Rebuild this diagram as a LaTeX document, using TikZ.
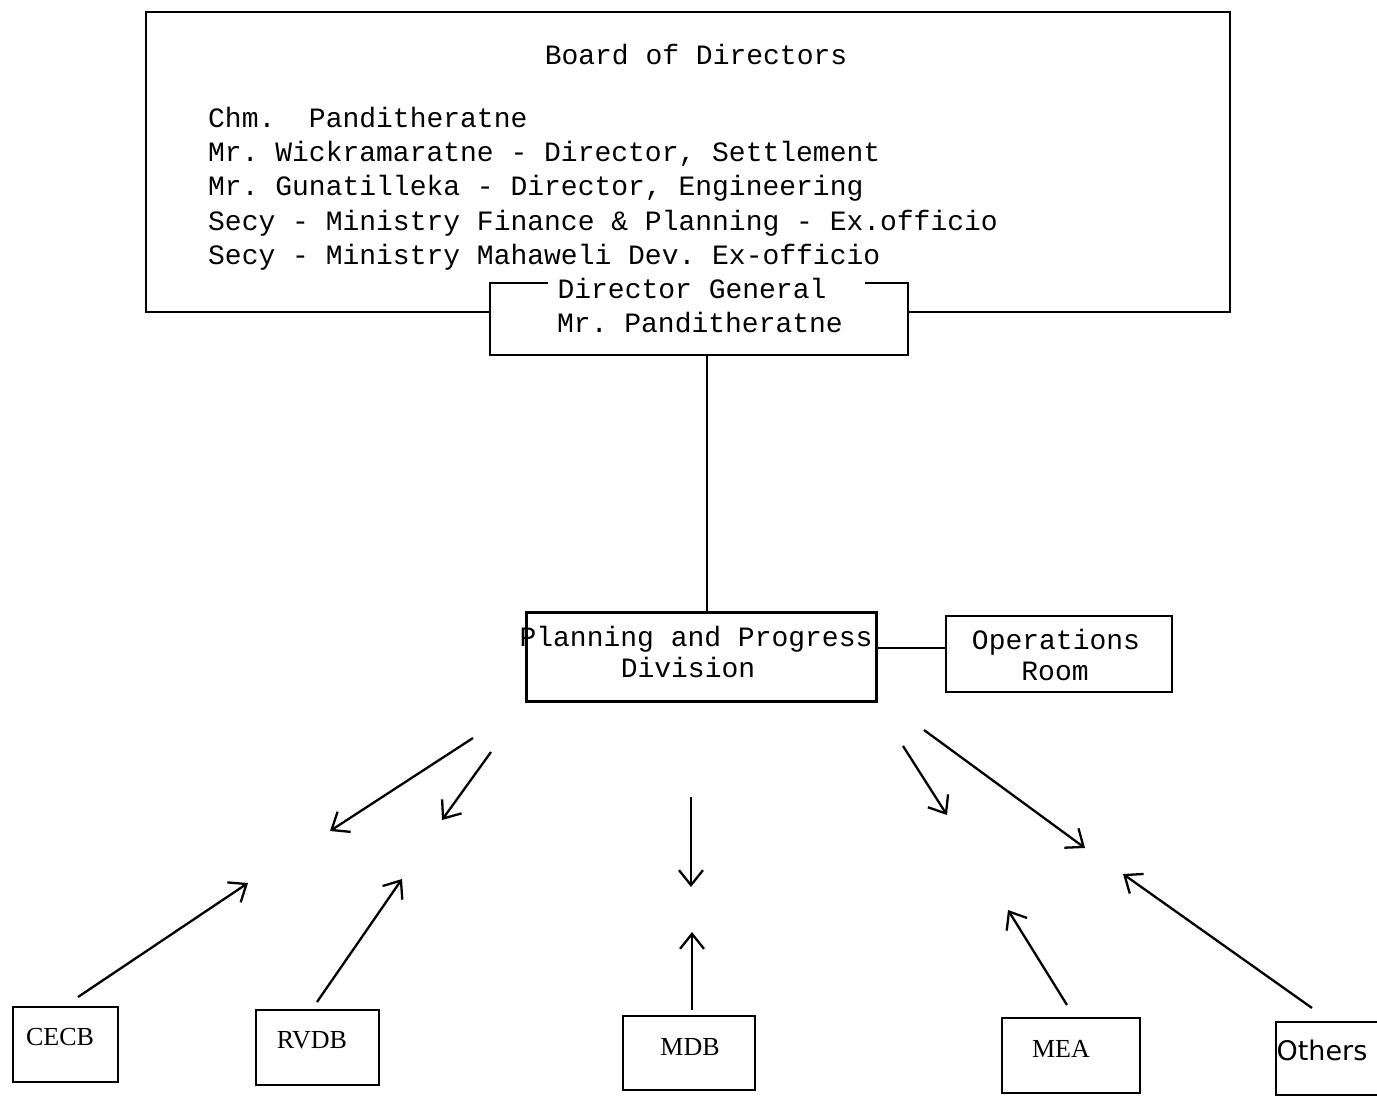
\documentclass[tikz,border=0pt]{standalone}
\usepackage{fontspec}
\setmonofont{Liberation Mono}
\newfontfamily\serifbox{Liberation Serif}
\newfontfamily\sansbox{DejaVu Sans}
\usetikzlibrary{arrows.meta,calc}
\begin{document}
\begin{tikzpicture}[x=1pt,y=-1pt,line width=2.3pt,
  tw/.style={font=\ttfamily\fontsize{28}{34}\selectfont, inner sep=0pt},
  boxlbl/.style={font=\serifbox\fontsize{26}{30}\selectfont, inner sep=0pt},
  othlbl/.style={font=\sansbox\fontsize{27}{30}\selectfont, inner sep=0pt},
  area/.style={inner sep=0pt, outer sep=0pt},
  frame/.style={draw, inner sep=0pt, outer sep=0pt},
  arr/.style={-{Straight Barb[length=15pt,width=24pt,line width=2.3pt]}}]
\fill[white] (0,0) rectangle (1377,1097);
\useasboundingbox (0,0) rectangle (1377,1097);

% Board of Directors frame
\node[area, minimum width=1084, minimum height=300] (board) at (688,162) {};
\node[area, minimum width=418, minimum height=72] (dg) at (699,319) {};
\draw (dg.west |- board.south) -- (board.south west) -- (board.north west)
      -- (board.north east) -- (board.south east) -- (dg.east |- board.south);
\draw ($(dg.north west)+(58,0)$) -- (dg.north west) -- (dg.south west)
      -- (dg.south east) -- (dg.north east) -- ++(-43,0);

\node[tw, anchor=base] (bt) at (696,65) {Board of Directors};
\node[tw, anchor=base west] (b1) at (207,128) {Chm.\ \ Panditheratne};
\node[tw, anchor=base west] (b2) at (207,162) {Mr. Wickramaratne - Director, Settlement};
\node[tw, anchor=base west] (b3) at (207,196) {Mr. Gunatilleka - Director, Engineering};
\node[tw, anchor=base west] (b4) at (207,230) {Secy - Ministry Finance \& Planning - Ex.officio};
\node[tw, anchor=base west] (b5) at (207,264) {Secy - Ministry Mahaweli Dev. Ex-officio};

\node[tw, anchor=base] (dg1) at (692,298) {Director General};
\node[tw, anchor=base] (dg2) at (700,332) {Mr. Panditheratne};

% Planning and Progress Division, Operations Room
\node[frame, minimum width=350, minimum height=89] (ppd) at (701.5,657) {};
\node[tw, anchor=base] (ppd1) at (696,646) {Planning and Progress};
\node[tw, anchor=base] (ppd2) at (688,677) {Division};
\node[frame, minimum width=226, minimum height=76] (ops) at (1059,654) {};
\node[tw, anchor=base] (ops1) at (1056,649) {Operations};
\node[tw, anchor=base] (ops2) at (1055,680) {Room};

\coordinate (vl) at (707,500);
\draw (vl |- dg.south) -- (vl |- ppd.north);
\coordinate (lk) at (910,648);
\draw (ppd.east |- lk) -- (ops.west |- lk);

% bottom boxes
\node[frame, minimum width=105, minimum height=75] (cecb) at (65.5,1044.5) {};
\node[boxlbl, anchor=base] (cecbt) at (60,1045) {CECB};
\node[frame, minimum width=123, minimum height=75] (rvdb) at (317.5,1047.5) {};
\node[boxlbl, anchor=base] (rvdbt) at (312,1048) {RVDB};
\node[frame, minimum width=132, minimum height=74] (mdb) at (689,1053) {};
\node[boxlbl, anchor=base] (mdbt) at (690,1055) {MDB};
\node[frame, minimum width=138, minimum height=75] (mea) at (1071,1055.5) {};
\node[boxlbl, anchor=base] (meat) at (1061,1057) {MEA};
\node[frame, minimum width=124, minimum height=73] (oth) at (1338,1058.5) {};
\node[othlbl, anchor=base] (otht) at (1322,1060) {Others};

% arrows from the division
\coordinate (d1s) at (473,738);  \coordinate (d1e) at (330,831);
\coordinate (d2s) at (491,752);  \coordinate (d2e) at (442,820);
\coordinate (d3s) at (691,797);  \coordinate (d3e) at (691,887);
\coordinate (d4s) at (903,746);  \coordinate (d4e) at (947,815);
\coordinate (d5s) at (924,730);  \coordinate (d5e) at (1085,848);
\draw[arr] (d1s) -- (d1e);
\draw[arr] (d2s) -- (d2e);
\draw[arr] (d3s) -- (d3e);
\draw[arr] (d4s) -- (d4e);
\draw[arr] (d5s) -- (d5e);

% arrows from the boards
\coordinate (u1s) at (78,997);    \coordinate (u1e) at (248,883);
\coordinate (u2s) at (317,1002);  \coordinate (u2e) at (402,879);
\coordinate (u3s) at (692,1010);  \coordinate (u3e) at (692,932);
\coordinate (u4s) at (1067,1005); \coordinate (u4e) at (1008,910);
\coordinate (u5s) at (1312,1008); \coordinate (u5e) at (1123,874);
\draw[arr] (u1s) -- (u1e);
\draw[arr] (u2s) -- (u2e);
\draw[arr] (u3s) -- (u3e);
\draw[arr] (u4s) -- (u4e);
\draw[arr] (u5s) -- (u5e);
\end{tikzpicture}
\end{document}
